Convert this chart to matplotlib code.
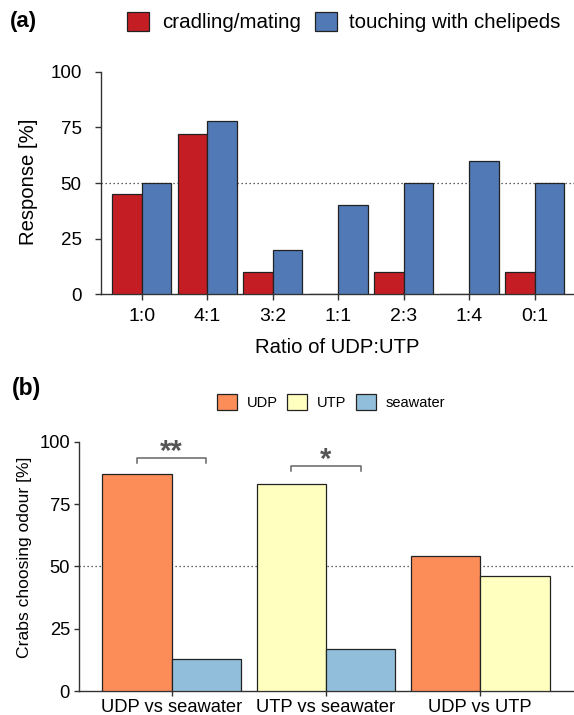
import matplotlib
matplotlib.use("Agg")
import matplotlib.pyplot as plt
from matplotlib.patches import Patch
import numpy as np

plt.rcParams['font.family'] = ['Liberation Sans', 'DejaVu Sans']

# ---- data panel (a)
ratios = ['1:0', '4:1', '3:2', '1:1', '2:3', '1:4', '0:1']
cradling = [45, 72, 10, 0, 10, 0, 10]
touching = [50, 78, 20, 40, 50, 60, 50]
a_yticks = [0, 25, 50, 75, 100]

# ---- data panel (b)
comparisons = ['UDP vs seawater', 'UTP vs seawater', 'UDP vs UTP']
first_odour = ['UDP', 'UTP', 'UDP']
first_vals = [87, 83, 54]
second_odour = ['seawater', 'seawater', 'UTP']
second_vals = [13, 17, 46]
b_yticks = [0, 25, 50, 75, 100]
sig_labels = ['**', '*']
bracket_y = [93.6, 90.4]

red = '#C41E24'
blue = '#5179B5'
odour_colors = {'UDP': '#FC8D59', 'UTP': '#FFFFBF', 'seawater': '#91BFDB'}
edge = '#222222'
axcol = '#333333'
dots = (0, (1, 2.2))

W, H = 574, 715
fig = plt.figure(figsize=(W / 100, H / 100), dpi=100)

def fx(px):
    return px / W

def fy(py):
    return 1 - py / H

# ---------------- panel (a)
axa = fig.add_axes([fx(101), fy(294.3), fx(574) - fx(101), fy(71.7) - fy(294.3)])
x = np.arange(len(ratios))
bw = 0.45
axa.bar(x - bw / 2, cradling, bw, color=red, edgecolor=edge, linewidth=0.9, zorder=3)
axa.bar(x + bw / 2, touching, bw, color=blue, edgecolor=edge, linewidth=0.9, zorder=3)
axa.axhline(50, color='#333333', linestyle=dots, linewidth=0.9, zorder=2)
axa.set_xlim(-0.62, 6.6)
axa.set_ylim(0, 100)
axa.set_xticks(x)
axa.set_xticklabels(ratios, fontsize=14)
axa.set_yticks(a_yticks)
axa.set_yticklabels([str(v) for v in a_yticks], fontsize=13.5)
axa.tick_params(axis='y', length=4, width=1, color=axcol, pad=10)
axa.tick_params(axis='x', length=4, width=1, color=axcol, pad=6)
for s in ['top', 'right']:
    axa.spines[s].set_visible(False)
for s in ['left', 'bottom']:
    axa.spines[s].set_color(axcol)
    axa.spines[s].set_linewidth(1)
axa.set_xlabel('Ratio of UDP:UTP', fontsize=14.6, labelpad=9)
fig.text(fx(29), fy(181.5), 'Response [%]', fontsize=14.6, rotation=90,
         ha='center', va='center')

fig.legend(handles=[Patch(facecolor=red, edgecolor=edge, linewidth=0.9, label='cradling/mating'),
                    Patch(facecolor=blue, edgecolor=edge, linewidth=0.9, label='touching with chelipeds')],
           loc='center', bbox_to_anchor=(fx(344), fy(22)), ncol=2, frameon=False,
           fontsize=14.8, handlelength=1.06, handleheight=1.06, handletextpad=0.63,
           columnspacing=0.68, borderpad=0, borderaxespad=0)
fig.text(fx(10), fy(22), '(a)', fontsize=16, fontweight='bold', va='center', ha='left')

# ---------------- panel (b)
axb = fig.add_axes([fx(79), fy(691), fx(574) - fx(79), fy(441.7) - fy(691)])
xb = np.arange(len(comparisons))
bwb = 0.45
axb.bar(xb - bwb / 2, first_vals, bwb, color=[odour_colors[o] for o in first_odour],
        edgecolor=edge, linewidth=0.9, zorder=3)
axb.bar(xb + bwb / 2, second_vals, bwb, color=[odour_colors[o] for o in second_odour],
        edgecolor=edge, linewidth=0.9, zorder=3)
axb.axhline(50, color='#333333', linestyle=dots, linewidth=0.9, zorder=2)
axb.set_xlim(-0.6, 2.607)
axb.set_ylim(0, 100)
axb.set_xticks(xb)
axb.set_xticklabels(comparisons, fontsize=13.2)
axb.set_yticks(b_yticks)
axb.set_yticklabels([str(v) for v in b_yticks], fontsize=13.2)
axb.tick_params(axis='y', length=3.5, width=1, color=axcol, pad=3)
axb.tick_params(axis='x', length=3.5, width=1, color=axcol, pad=2)
for s in ['top', 'right']:
    axb.spines[s].set_visible(False)
for s in ['left', 'bottom']:
    axb.spines[s].set_color(axcol)
    axb.spines[s].set_linewidth(1)
fig.text(fx(25), fy(557), 'Crabs choosing odour [%]', fontsize=12.6, rotation=90,
         ha='center', va='center')

# significance brackets
for i, (lab, by) in enumerate(zip(sig_labels, bracket_y)):
    x0, x1 = xb[i] - bwb / 2, xb[i] + bwb / 2
    axb.plot([x0, x0, x1, x1], [by - 2.3, by, by, by - 2.3], color='#666666',
             linewidth=1.1, clip_on=False, zorder=4)
    axb.text(xb[i], by - 0.8, lab, ha='center', va='baseline', fontsize=21,
             fontweight='bold', color='#555555', clip_on=False)

fig.legend(handles=[Patch(facecolor=odour_colors[k], edgecolor=edge, linewidth=0.9, label=k)
                    for k in ['UDP', 'UTP', 'seawater']],
           loc='center', bbox_to_anchor=(fx(331), fy(402)), ncol=3, frameon=False,
           fontsize=10.5, handlelength=1.37, handleheight=1.33, handletextpad=0.68,
           columnspacing=0.66, borderpad=0, borderaxespad=0)
fig.text(fx(12), fy(389), '(b)', fontsize=16.5, fontweight='bold', va='center', ha='left')

fig.savefig('out.png', dpi=100)
